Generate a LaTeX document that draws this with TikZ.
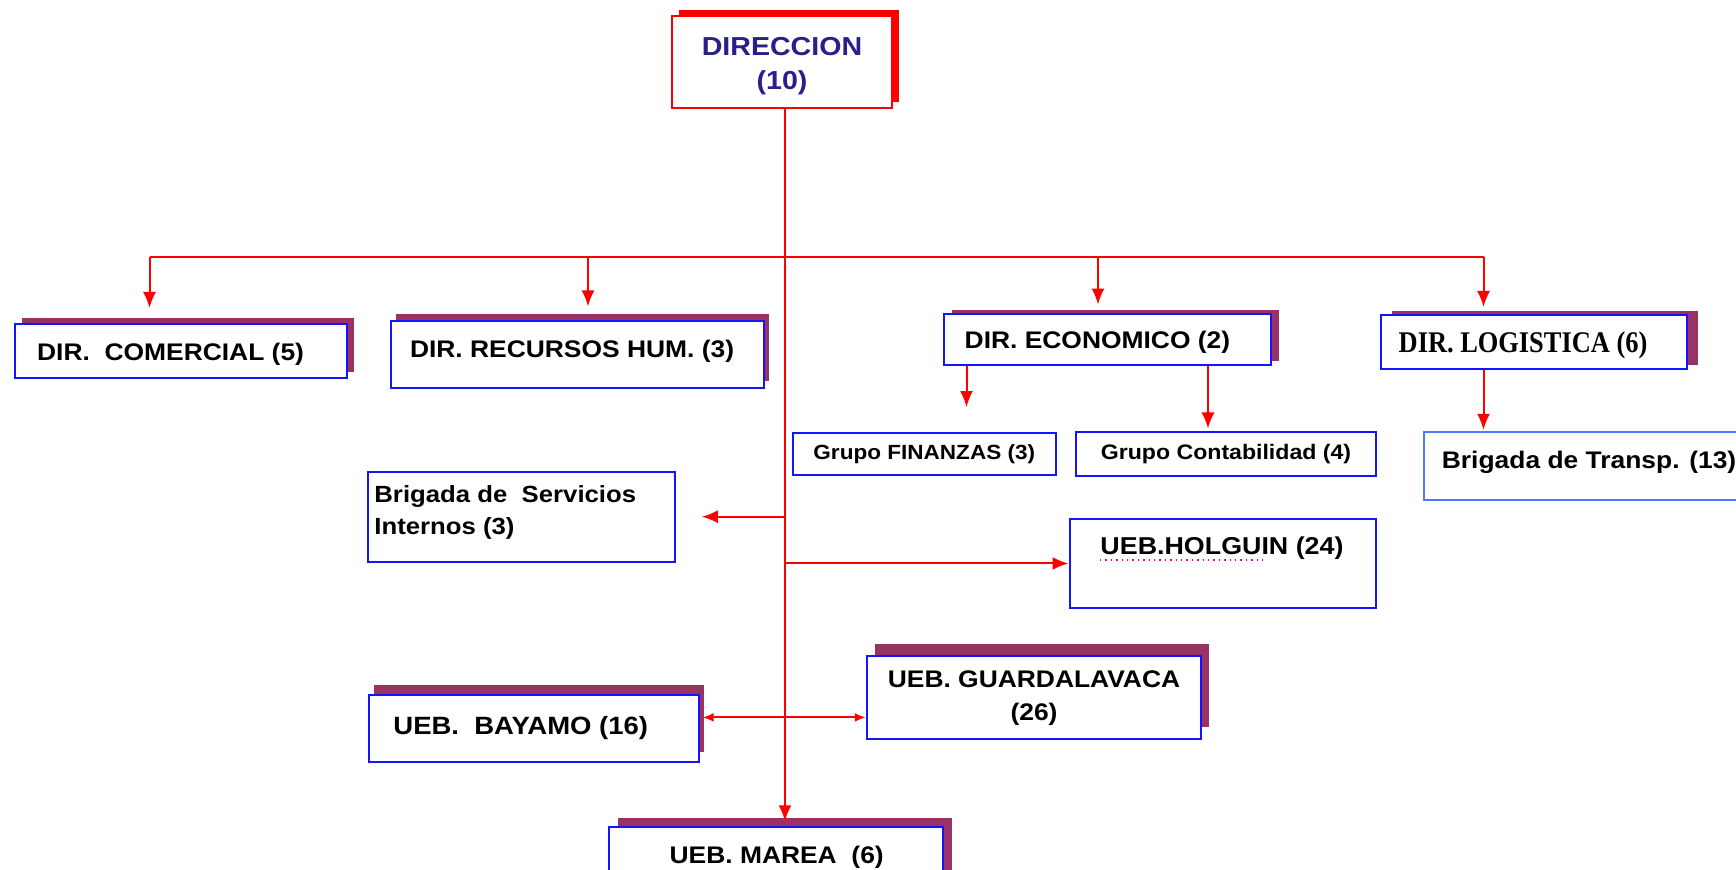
\documentclass[tikz,border=0pt]{standalone}
\usepackage{fontspec}
\setmainfont{Liberation Sans}[FakeStretch=1.1]
\newfontfamily\logfont{Liberation Serif}[FakeStretch=0.88]
\usepackage{tikz}
\usetikzlibrary{arrows.meta, shadows}

\definecolor{boxline}{RGB}{20,20,255}
\definecolor{boxlight}{RGB}{80,120,255}
\definecolor{boxshadow}{RGB}{153,51,102}
\definecolor{titleblue}{RGB}{40,30,140}

\begin{document}
\begin{tikzpicture}[x=0.5pt, y=-0.5pt,
  box/.style={draw=boxline, line width=1pt, fill=white, inner sep=0pt},
  shbox/.style 2 args={box, general shadow={fill=boxshadow, shadow xshift=#1, shadow yshift=#2}},
  txt/.style={inner sep=0pt, font=\fontsize{12}{14}\selectfont\bfseries},
  wire/.style={draw=red, line width=1pt},
  wirearrow/.style={wire, -{Latex[length=8pt, width=6.5pt]}}]

  \useasboundingbox (0,0) rectangle (1736,870);

  \node[box, draw=red, general shadow={fill=red, shadow xshift=3.25pt, shadow yshift=2.85pt},
        minimum width=110pt, minimum height=45.75pt] (direccion) at (782,61.8) {};
  \node[txt, align=center, text=titleblue, font=\fontsize{13}{17}\selectfont\bfseries] (direccion-t) at (782,65.7) {DIRECCION\\(10)};

  \node[shbox={3.5pt}{3pt}, minimum width=166pt, minimum height=27pt] (comercial) at (181,351) {};
  \node[shbox={2.5pt}{3.3pt}, minimum width=186.5pt, minimum height=33.25pt] (recursos) at (577.3,354.3) {};
  \node[shbox={4pt}{2pt}, minimum width=163.3pt, minimum height=25.5pt] (economico) at (1107.7,339.9) {};
  \node[shbox={5.5pt}{2pt}, minimum width=152.9pt, minimum height=27pt] (logistica) at (1533.9,342) {};
  \node[box, minimum width=131.7pt, minimum height=21.2pt, font=\fontsize{10.25}{12}\selectfont\bfseries] (finanzas) at (924.3,453.9) {Grupo FINANZAS (3)};
  \node[box, minimum width=150pt, minimum height=22pt, font=\fontsize{10.5}{12}\selectfont\bfseries] (contab) at (1226,453.9) {Grupo Contabilidad (4)};
  \node[box, draw=boxlight, minimum width=168pt, minimum height=34.3pt] (transp) at (1591.9,466.1) {};
  \node[box, minimum width=153.3pt, minimum height=45pt] (servicios) at (521.7,516.7) {};
  \node[box, minimum width=153.3pt, minimum height=44.3pt] (holguin) at (1222.8,563.5) {};
  \node[shbox={4pt}{6pt}, minimum width=167.2pt, minimum height=41.5pt, align=center,
        font=\fontsize{12}{16.75}\selectfont\bfseries] (guarda) at (1034,698) {UEB. GUARDALAVACA\\(26)};
  \node[shbox={2.5pt}{5pt}, minimum width=165pt, minimum height=33.2pt] (bayamo) at (533.7,728.5) {};
  \node[shbox={4.2pt}{4.5pt}, minimum width=167pt, minimum height=34pt] (marea) at (776.3,861.3) {};

  \node[txt, anchor=base west] (comercial-t) at (36.7,360.7) {DIR.\ \ COMERCIAL (5)};
  \node[txt, anchor=base west] (recursos-t) at (409.6,358) {DIR. RECURSOS HUM. (3)};
  \node[txt, anchor=base west] (economico-t) at (964.3,348.5) {DIR. ECONOMICO (2)};
  \node[txt, anchor=base west, font=\logfont\fontsize{15}{17}\selectfont\bfseries] (logistica-t) at (1398.3,352.7) {DIR. LOGISTICA (6)};
  \node[txt, anchor=base west] (transp-t) at (1441.5,469) {Brigada de Transp. (13)};
  \node[txt, anchor=base west, font=\fontsize{11.7}{14}\selectfont\bfseries] (servicios-t1) at (374,502.7) {Brigada de\ \ Servicios};
  \node[txt, anchor=base west, font=\fontsize{11.7}{14}\selectfont\bfseries] (servicios-t2) at (374,535) {Internos (3)};
  \node[txt, anchor=base, font=\fontsize{12.2}{14}\selectfont\bfseries] (holguin-t) at (1222,555) {UEB.HOLGUIN (24)};
  \node[txt, anchor=base west, font=\fontsize{12.5}{14}\selectfont\bfseries] (bayamo-t) at (393,734.5) {UEB.\ \ BAYAMO (16)};
  \node[txt, anchor=base] (marea-t) at (776.7,863.3) {UEB. MAREA\ \ (6)};

  \draw[magenta, dotted, line width=0.7pt] ([yshift=-2.5pt]holguin-t.base west) -- ++(82pt,0);

  \coordinate (spine) at (785,0);
  \coordinate (bus) at (0,257);
  \coordinate (xc) at (149.5,0);
  \coordinate (xr) at (588,0);
  \coordinate (xe) at (1098,0);
  \coordinate (xl) at (1483.5,0);
  \coordinate (xf) at (966.5,0);
  \coordinate (xg) at (1208,0);
  \coordinate (dbl) at (0,717.4);

  \draw[wirearrow, shorten >=2.5pt] (direccion.south -| spine) -- (spine |- marea.north);
  \draw[wire] (xc |- bus) -- (xl |- bus);
  \foreach \x/\n/\s in {xc/comercial/7.5pt, xr/recursos/6.8pt, xe/economico/4.4pt, xl/logistica/3.5pt}
    \draw[wirearrow, shorten >=\s] (\x |- bus) -- (\x |- \n.north);

  \draw[wirearrow, shorten >=12.3pt] (xf |- economico.south) -- (xf |- finanzas.north);
  \draw[wirearrow, shorten >=1.2pt] (xg |- economico.south) -- (xg |- contab.north);
  \draw[wirearrow, shorten >=0.5pt] (xl |- logistica.south) -- (xl |- transp.north);
  \draw[wirearrow, shorten >=12.9pt] (servicios.east -| spine) -- (servicios.east);
  \draw[wirearrow] (holguin.west -| spine) -- (holguin.west);
  \draw[wire, {Latex[length=5.5pt, width=4.5pt]}-{Latex[length=5.5pt, width=4.5pt]}, shorten <=1.5pt] (bayamo.east |- dbl) -- (guarda.west |- dbl);
\end{tikzpicture}
\end{document}
